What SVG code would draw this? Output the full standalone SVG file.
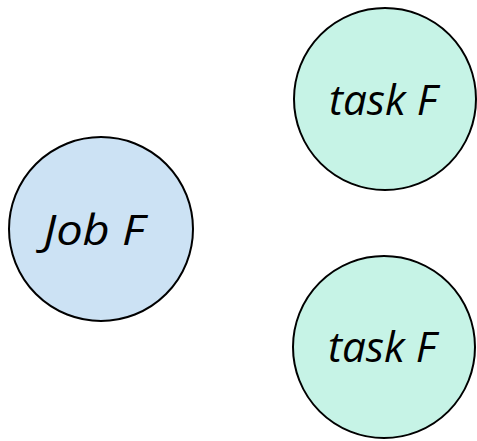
<svg xmlns="http://www.w3.org/2000/svg" width="477" height="441" viewBox="0 0 477 441">
<style>
.n{stroke:#000;stroke-width:2}
.job{fill:#cce2f4}
.task{fill:#c6f3e6}
text{font-family:"Open Sans","Liberation Sans",sans-serif;font-style:italic;font-size:42px;fill:#000;text-anchor:middle}
</style>
<rect width="477" height="441" fill="#fff"/>
<g id="connectors"></g>
<g id="jobF"><circle class="n job" cx="101" cy="229" r="92"/><text x="94" y="245" textLength="101" lengthAdjust="spacingAndGlyphs">Job F</text></g>
<g id="taskF1"><circle class="n task" cx="385" cy="99" r="91"/><text x="383" y="115" textLength="108" lengthAdjust="spacingAndGlyphs">task F</text></g>
<g id="taskF2"><circle class="n task" cx="384" cy="347" r="91"/><text x="382" y="362" textLength="108" lengthAdjust="spacingAndGlyphs">task F</text></g>
</svg>
